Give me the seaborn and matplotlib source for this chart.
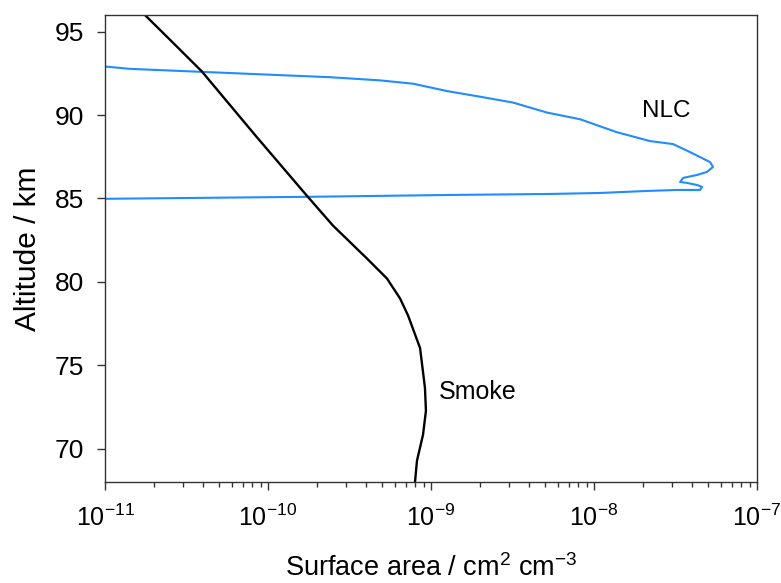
import numpy as np
import pandas as pd
import matplotlib
matplotlib.use("Agg")
import matplotlib.pyplot as plt
import seaborn as sns

# smoke profile: log10(surface area) vs altitude
smoke_alt = [96.0, 94.34, 92.61, 88.74, 85.16, 83.37, 81.40, 80.20, 79.01, 77.99, 76.03, 73.64, 72.27, 70.83, 69.28, 68.0]
smoke_log = [-10.755, -10.583, -10.405, -10.074, -9.761, -9.601, -9.393, -9.270, -9.190, -9.141, -9.067, -9.037, -9.031, -9.049, -9.086, -9.098]

# NLC profile (top branch -> tip -> bottom branch)
nlc_alt = [92.91, 92.77, 92.27, 92.08, 91.88, 91.44, 91.10, 90.75, 90.15, 89.75, 88.97, 88.44, 88.26, 87.78,
           87.18, 86.89, 86.59, 86.41, 86.23, 85.99, 85.93, 85.81, 85.69, 85.51, 85.51, 85.45,
           85.33, 85.27, 85.21, 85.10, 84.98]
nlc_log = [-11.0, -10.847, -9.620, -9.313, -9.110, -8.902, -8.699, -8.497, -8.288, -8.086, -7.859, -7.656, -7.515, -7.411,
           -7.288, -7.27, -7.307, -7.368, -7.454, -7.472, -7.429, -7.368, -7.337, -7.35, -7.491, -7.675,
           -7.963, -8.27, -8.883, -9.742, -11.0]

smoke = pd.DataFrame({"area": 10 ** np.array(smoke_log), "alt": smoke_alt})
nlc = pd.DataFrame({"area": 10 ** np.array(nlc_log), "alt": nlc_alt})

sns.set_style("ticks")
plt.rcParams["font.family"] = ["Liberation Sans", "DejaVu Sans"]
plt.rcParams["mathtext.fontset"] = "custom"
plt.rcParams["mathtext.rm"] = "Liberation Sans"
plt.rcParams["mathtext.it"] = "Liberation Sans:italic"
plt.rcParams["text.color"] = "black"
plt.rcParams["axes.labelcolor"] = "black"
plt.rcParams["xtick.color"] = "black"
plt.rcParams["ytick.color"] = "black"

fig = plt.figure(figsize=(7.81, 5.83), dpi=100)
ax = fig.add_axes([0.1344, 0.1732, 0.8349, 0.8011])

sns.lineplot(data=nlc, x="area", y="alt", sort=False, estimator=None, color="#1f8cff", linewidth=1.5, ax=ax)
sns.lineplot(data=smoke, x="area", y="alt", sort=False, estimator=None, color="black", linewidth=1.7, ax=ax)

ax.set_xscale("log")
ax.set_xlim(1e-11, 1e-7)
ax.set_ylim(68, 96)
ax.set_yticks([70, 75, 80, 85, 90, 95])

ax.text(10 ** -7.558, 90.23, "NLC", fontsize=17.5, ha="center", va="center")
ax.text(10 ** -8.715, 73.4, "Smoke", fontsize=18, ha="center", va="center")

ax.set_xlabel("Surface area / cm$^2$ cm$^{-3}$", fontsize=19.5, labelpad=17)
ax.set_ylabel("Altitude / km", fontsize=21.5, labelpad=9)
ax.tick_params(axis="both", which="major", labelsize=18, direction="out", length=6, width=1, color="#333333")
ax.tick_params(axis="y", which="major", labelsize=19)
ax.tick_params(axis="x", which="minor", direction="out", length=3.5, width=1, color="#333333")
ax.tick_params(axis="x", which="major", pad=10)
ax.tick_params(axis="y", which="major", pad=9)
for s in ax.spines.values():
    s.set_color("#333333")
    s.set_linewidth(1)

fig.savefig("out.png", dpi=100, facecolor="white")
